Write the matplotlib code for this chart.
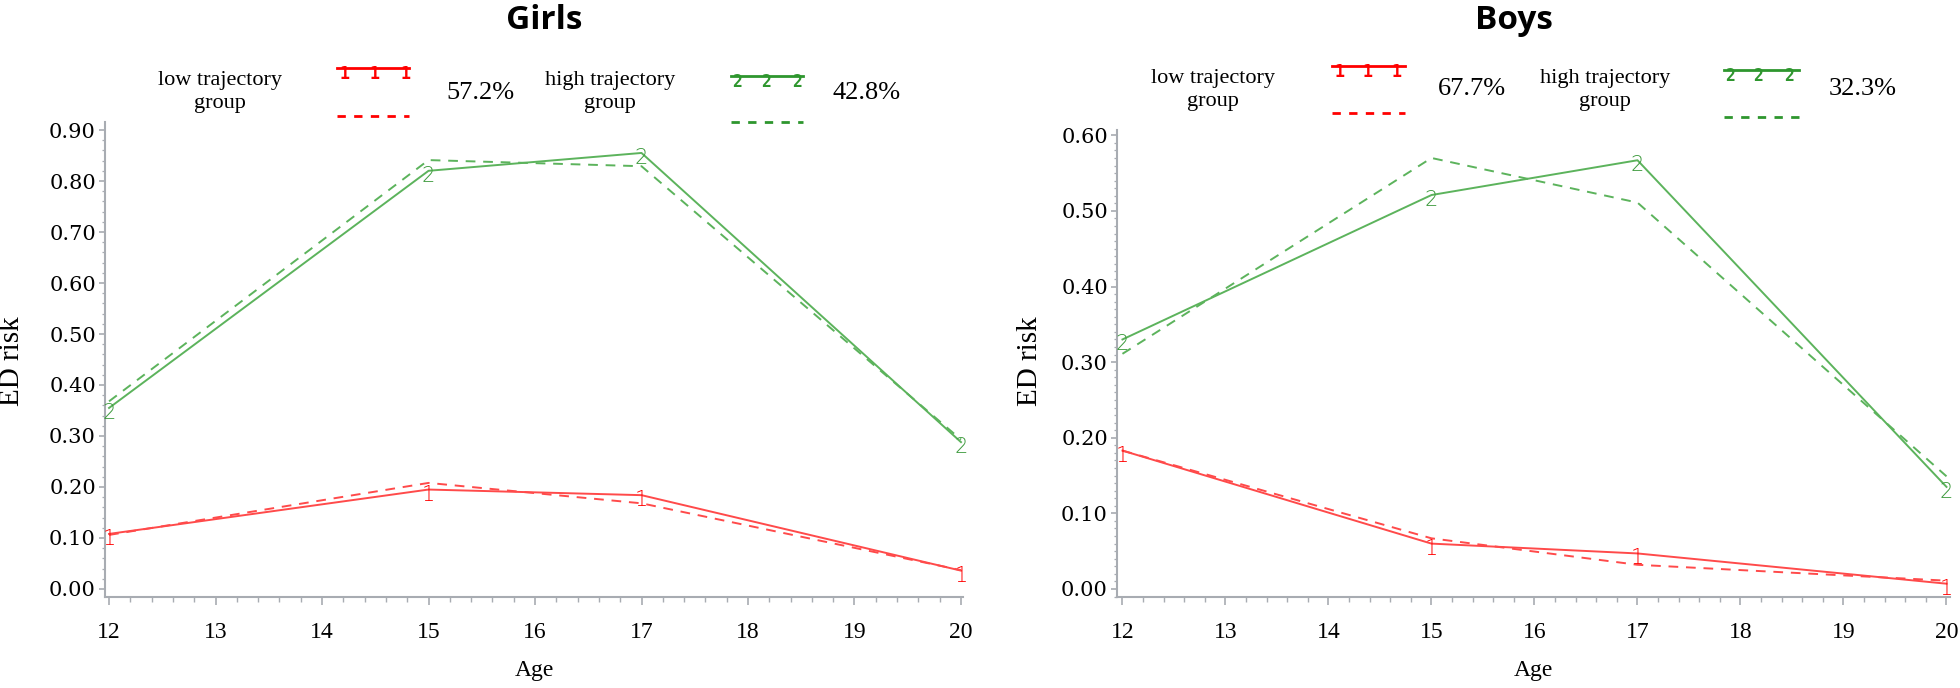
import matplotlib
matplotlib.use("Agg")
import matplotlib.pyplot as plt
from matplotlib.lines import Line2D
from matplotlib.ticker import MultipleLocator, FormatStrFormatter
import matplotlib.transforms as mtransforms

# ---------------- data ----------------
ages = [12, 15, 17, 20]

girls_low_est = [0.108, 0.195, 0.184, 0.036]
girls_low_obs = [0.106, 0.208, 0.168, 0.037]
girls_high_est = [0.355, 0.820, 0.855, 0.288]
girls_high_obs = [0.368, 0.841, 0.829, 0.293]

boys_low_est = [0.183, 0.060, 0.047, 0.007]
boys_low_obs = [0.183, 0.067, 0.032, 0.011]
boys_high_est = [0.330, 0.521, 0.567, 0.135]
boys_high_obs = [0.311, 0.570, 0.511, 0.149]

titles = ["Girls", "Boys"]
group_labels = ["low trajectory\ngroup", "high trajectory\ngroup"]
girls_pct = ["57.2%", "42.8%"]
boys_pct = ["67.7%", "32.3%"]
x_ticks = [12, 13, 14, 15, 16, 17, 18, 19, 20]
x_label = "Age"
y_label = "ED risk"

# ---------------- style ----------------
W, H = 1960, 688
DPI = 100
RED_PLOT = "#ff4a4a"
GREEN_PLOT = "#5cb35c"
GREEN_MARK = "#3d9a3d"
RED_LEG = "#ff0000"
GREEN_LEG = "#2e962e"
SPINE = "#a8acb2"
SERIF = ["Liberation Serif", "DejaVu Serif"]
SERIF_Y = ["DejaVu Serif"]

fig = plt.figure(figsize=(W / DPI, H / DPI), dpi=DPI)


def px_axes(x0, x1, ytop, ybot):
    return fig.add_axes([x0 / W, 1 - ybot / H, (x1 - x0) / W, (ybot - ytop) / H])


panels = [
    dict(box=(105, 963, 122, 597), xlim=(11.962, 20.019), ylim=(-0.0157, 0.9157),
         ymax_tick=0.9, yminor=0.02,
         low=(girls_low_est, girls_low_obs), high=(girls_high_est, girls_high_obs),
         ylab_x=25),
    dict(box=(1117, 1950, 130, 597), xlim=(11.947, 20.034), ylim=(-0.0106, 0.607),
         ymax_tick=0.6, yminor=0.01,
         low=(boys_low_est, boys_low_obs), high=(boys_high_est, boys_high_obs),
         ylab_x=1043),
]

for p in panels:
    x0, x1, yt, yb = p["box"]
    ax = px_axes(x0, x1, yt, yb)
    ax.set_xlim(*p["xlim"])
    ax.set_ylim(*p["ylim"])
    for s in ["top", "right"]:
        ax.spines[s].set_visible(False)
    for s in ["left", "bottom"]:
        ax.spines[s].set_color(SPINE)
        ax.spines[s].set_linewidth(1.5)

    ax.set_xticks(x_ticks)
    ax.xaxis.set_minor_locator(MultipleLocator(0.2))
    yt_vals = [round(i * 0.1, 2) for i in range(int(round(p["ymax_tick"] * 10)) + 1)]
    ax.set_yticks(yt_vals)
    ax.yaxis.set_major_formatter(FormatStrFormatter("%.2f"))
    ax.yaxis.set_minor_locator(MultipleLocator(p["yminor"]))
    ax.tick_params(axis="x", which="major", length=6, width=1.2, color=SPINE, pad=12,
                   labelsize=17, labelcolor="black")
    ax.tick_params(axis="x", which="minor", length=3.5, width=1.0, color=SPINE)
    ax.tick_params(axis="y", which="major", length=4.5, width=1.2, color=SPINE, pad=2,
                   labelsize=15, labelcolor="black")
    ax.tick_params(axis="y", which="minor", length=2.5, width=0.9, color=SPINE)
    for lab in ax.get_xticklabels():
        lab.set_family(SERIF)
    for lab in ax.get_yticklabels():
        lab.set_family(SERIF_Y)

    est_l, obs_l = p["low"]
    est_h, obs_h = p["high"]
    ax.plot(ages, est_l, color=RED_PLOT, lw=1.4)
    ax.plot(ages, obs_l, color=RED_PLOT, lw=1.4, ls=(0, (5, 4)))
    ax.plot(ages, est_h, color=GREEN_PLOT, lw=1.4)
    ax.plot(ages, obs_h, color=GREEN_PLOT, lw=1.4, ls=(0, (5, 4)))

    off = mtransforms.offset_copy(ax.transData, fig=fig, x=0, y=-5, units="dots")
    for xa, ya in zip(ages, est_l):
        ax.text(xa, ya, "1", transform=off, ha="center", va="center", color=RED_LEG,
                fontsize=15, family=["DejaVu Sans"], fontweight="light", clip_on=False)
    for xa, ya in zip(ages, est_h):
        ax.text(xa, ya, "2", transform=off, ha="center", va="center", color=GREEN_MARK,
                fontsize=15, family=["DejaVu Sans"], fontweight="light", clip_on=False)

    ax.set_xlabel(x_label, fontsize=17, family=SERIF)
    ax.xaxis.set_label_coords(((x0 + x1) / 2 - x0) / (x1 - x0), -(660 - yb) / (yb - yt))
    ax.set_ylabel(y_label, fontsize=21, family=SERIF)
    ax.yaxis.set_label_coords((p["ylab_x"] - x0) / (x1 - x0), (yb - 361) / (yb - yt))

# ---------------- overlay for titles and legends (pixel coordinates) ----------------
ov = fig.add_axes([0, 0, 1, 1], zorder=10)
ov.set_xlim(0, W)
ov.set_ylim(H, 0)
ov.axis("off")
ov.patch.set_alpha(0)

title_pos = [(544, 29), (1514, 29)]
for t, (tx, ty) in zip(titles, title_pos):
    ov.text(tx, ty, t, ha="center", va="baseline", fontsize=24, fontweight="bold",
            family=["Open Sans", "DejaVu Sans"], color="black")

legends = [
    dict(text_x=(220, 610), text_y=92,
         red=(337, 409, 68, 116, [344, 374, 405]),
         green=(731, 803, 76, 122, [737, 766, 797]),
         pct=girls_pct, pct_x=(480, 867), pct_y=93),
    dict(text_x=(1213, 1605), text_y=90,
         red=(1332, 1405, 66, 113, [1339, 1367, 1396]),
         green=(1724, 1799, 70, 117, [1730, 1758, 1789]),
         pct=boys_pct, pct_x=(1472, 1863), pct_y=89),
]

for lg in legends:
    for gl, tx in zip(group_labels, lg["text_x"]):
        ov.text(tx, lg["text_y"], gl, ha="center", va="center", multialignment="center",
                fontsize=16, family=SERIF, linespacing=1.35, color="black")
    for pc, px in zip(lg["pct"], lg["pct_x"]):
        ov.text(px, lg["pct_y"], pc, ha="center", va="center", fontsize=19,
                family=SERIF, color="black")
    for (xa, xb, ys, yd, gx), col, glyph in [(lg["red"], RED_LEG, "1"), (lg["green"], GREEN_LEG, "2")]:
        ov.add_line(Line2D([xa, xb], [ys, ys], color=col, lw=2.0))
        ov.add_line(Line2D([xa, xb], [yd, yd], color=col, lw=2.0, ls=(0, (3, 3))))
        for g in gx:
            ov.text(g, ys - 3, glyph, ha="center", va="top", fontsize=12, color=col,
                    family=["DejaVu Sans Mono"], fontweight="bold")

fig.savefig("out.png", dpi=DPI)
